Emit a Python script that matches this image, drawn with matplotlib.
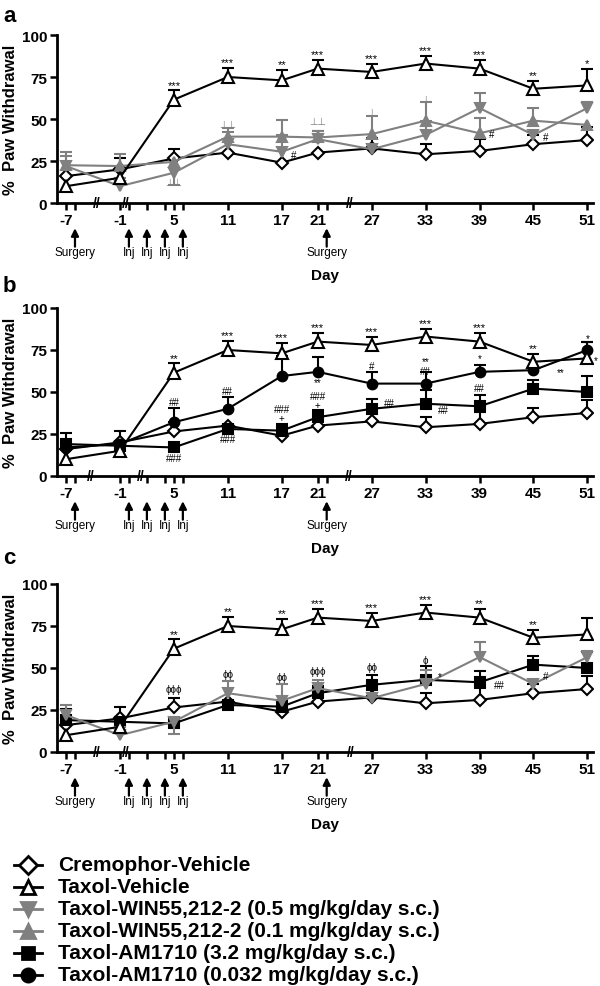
import matplotlib
matplotlib.use('Agg')
import matplotlib.pyplot as plt
from matplotlib.lines import Line2D
import numpy as np

plt.rcParams['font.family'] = ['Liberation Sans', 'DejaVu Sans']

# ---- data (% paw withdrawal) ----
days = [-7, -1, 5, 11, 17, 21, 27, 33, 39, 45, 51]
day_labels = ['-7', '-1', '5', '11', '17', '21', '27', '33', '39', '45', '51']
minor_days = [-6, 0, 2, 4, 6, 22]
surgery_days = [-6, 22]
inj_days = [0, 2, 4, 6]

cremo = [16, 20, 26.5, 30, 24, 30, 32.5, 29, 31, 35, 37.5]
cremo_up = [0, 7, 5.5, 0, 0, 0, 6, 6, 7, 5.5, 8]

taxol = [10, 15, 61.5, 75, 73, 80, 78, 83, 80, 68, 70]
taxol_up = [0, 0, 5.5, 5.5, 6, 5, 5, 4.5, 5, 4.5, 10]

win05 = [22, 10, 18, 35, 30.5, 38, 32, 40.5, 56.5, 40.5, 56.5]
win05_up = [6, 5, 0, 7, 10, 5, 0, 8.5, 9, 0, 3.5]
win05_dn = [0, 0, 7, 0, 0, 0, 0, 0, 0, 0, 0]

win01 = [22.5, 22, 24.5, 39.5, 39.5, 39, 41, 49, 41.5, 49, 46.5]
win01_up = [8, 7, 0, 5, 10, 4, 11, 11, 9, 7.5, 0]

am32 = [19, 18, 17, 28, 27, 35, 40, 43, 41.5, 52, 50]
am32_up = [6.5, 0, 0, 0, 4, 4, 6, 8, 6.5, 5, 9.5]

am0032 = [17, 19, 32, 40, 59.5, 62, 55, 55, 62, 63, 75]
am0032_up = [0, 0, 8.5, 7, 12, 9, 7, 7, 4, 0, 5]

# significance marks above the Taxol-Vehicle error bars
stars_a = ['', '', '***', '***', '**', '***', '***', '***', '***', '**', '*']
stars_b = ['', '', '**', '***', '***', '***', '***', '***', '***', '**', '']
stars_c = ['', '', '**', '**', '**', '***', '***', '***', '**', '**', '']

GREY = '#808080'
zeros = [0] * len(days)

series = {
    'cremo': dict(label='Cremophor-Vehicle', y=cremo, up=cremo_up, dn=zeros,
                  marker='D', ms=6.5, color='black', mfc='white'),
    'taxol': dict(label='Taxol-Vehicle', y=taxol, up=taxol_up, dn=zeros,
                  marker='^', ms=8, color='black', mfc='white'),
    'win05': dict(label='Taxol-WIN55,212-2 (0.5 mg/kg/day s.c.)', y=win05, up=win05_up,
                  dn=win05_dn, marker='v', ms=7.5, color=GREY, mfc=GREY),
    'win01': dict(label='Taxol-WIN55,212-2 (0.1 mg/kg/day s.c.)', y=win01, up=win01_up,
                  dn=zeros, marker='^', ms=7.5, color=GREY, mfc=GREY),
    'am32': dict(label='Taxol-AM1710 (3.2 mg/kg/day s.c.)', y=am32, up=am32_up, dn=zeros,
                 marker='s', ms=6.5, color='black', mfc='black'),
    'am0032': dict(label='Taxol-AM1710 (0.032 mg/kg/day s.c.)', y=am0032, up=am0032_up,
                   dn=zeros, marker='o', ms=7, color='black', mfc='black'),
}

# extra marks: (day, y centre, text, colour)
notes_a = [(11, 47, '⊥⊥', GREY), (21, 49, '⊥⊥', GREY), (27, 54, '⊥', GREY),
           (33, 62, '⊥', GREY), (5, 12.5, '⊥⊥', GREY),
           (18.3, 28.5, '#', 'black'), (40.3, 41, '#', 'black'), (46.3, 39, '#', 'black')]
notes_b = [(5, 44, '##', 'black'), (5, 10.5, '###', 'black'),
           (11, 50.5, '##', 'black'), (11, 22, '###', 'black'),
           (17, 40, '###', 'black'), (17, 34.5, '+', 'black'),
           (21, 47.5, '###', 'black'), (21, 42, '+', 'black'), (21, 56, '**', 'black'),
           (27, 65.5, '#', 'black'), (29, 43.5, '##', 'black'),
           (33, 68.5, '**', 'black'), (33, 62.5, '##', 'black'), (35, 39.5, '##', 'black'),
           (39, 70, '*', 'black'), (39, 52.5, '##', 'black'),
           (48, 62, '**', 'black'), (51, 82, '*', 'black'), (51.9, 69, '*', 'black')]
notes_c = [(5, 37.5, 'ϕϕϕ', 'black'), (11, 46.5, 'ϕϕ', 'black'), (17, 44.5, 'ϕϕ', 'black'),
           (21, 48, 'ϕϕϕ', 'black'), (27, 50.5, 'ϕϕ', 'black'), (33, 55, 'ϕ', 'black'),
           (34.6, 45, '*', 'black'), (41.2, 40, '##', 'black'), (46.3, 45, '#', 'black')]

breaks_a = [-3.6, -0.3, 24.6]
breaks_b = [-4.3, 1.3, 24.5]
breaks_c = [-3.6, -0.4, 24.7]


def plot_series(ax, s, z):
    x = np.array(days, float)
    y = np.array(s['y'], float)
    up = np.array(s['up'], float)
    dn = np.array(s['dn'], float)
    m = up > 0
    if m.any():
        _, caps, _ = ax.errorbar(x[m], y[m], yerr=[np.zeros(m.sum()), up[m]], fmt='none',
                                 ecolor=s['color'], elinewidth=1.5, capsize=4.5,
                                 capthick=1.5, zorder=z)
        caps[0].set_visible(False)
    m = dn > 0
    if m.any():
        _, caps, _ = ax.errorbar(x[m], y[m], yerr=[dn[m], np.zeros(m.sum())], fmt='none',
                                 ecolor=s['color'], elinewidth=1.5, capsize=4.5,
                                 capthick=1.5, zorder=z)
        caps[1].set_visible(False)
    ax.plot(x, y, color=s['color'], lw=1.5, marker=s['marker'], ms=s['ms'],
            mfc=s['mfc'], mec=s['color'], mew=1.5, zorder=z + 0.5)


def setup_panel(ax, keys, stars, notes, breaks):
    for i, k in enumerate(keys):
        plot_series(ax, series[k], 3 + i)

    t = series['taxol']
    for d, v, e, st in zip(days, t['y'], t['up'], stars):
        if st:
            ax.text(d, v + e + 0.5, st, ha='center', va='bottom', fontsize=8, zorder=10)
    for d, v, txt, col in notes:
        ax.text(d, v, txt, ha='center', va='center', fontsize=7, color=col,
                zorder=10, clip_on=False)

    ax.set_xlim(-8, 51.6)
    ax.set_ylim(0, 100)
    ax.set_yticks([0, 25, 50, 75, 100])
    ax.set_xticks(days)
    ax.set_xticklabels(day_labels)
    ax.set_xticks(minor_days, minor=True)
    for sp in ['top', 'right']:
        ax.spines[sp].set_visible(False)
    for sp in ['left', 'bottom']:
        ax.spines[sp].set_linewidth(2)
    ax.tick_params(which='both', direction='out', length=5, width=1.8, labelsize=11, pad=2)
    for lbl in ax.get_xticklabels() + ax.get_yticklabels():
        lbl.set_fontweight('bold')

    ax.set_ylabel('%  Paw Withdrawal', fontsize=12, fontweight='bold')
    ax.yaxis.set_label_coords(-0.072, 0.5)

    tr = ax.get_xaxis_transform()
    for b in breaks:
        ax.text(b, 0, '//', transform=tr, ha='center', va='center', fontsize=10,
                fontweight='bold', clip_on=False, zorder=12)

    arrow_style = dict(arrowstyle='-|>', color='black', lw=1.6, mutation_scale=11,
                       shrinkA=0, shrinkB=0)
    for d in surgery_days:
        ax.annotate('', xy=(d, -0.15), xytext=(d, -0.26), xycoords=tr, textcoords=tr,
                    arrowprops=arrow_style)
        ax.text(d, -0.29, 'Surgery', transform=tr, ha='center', va='center', fontsize=8.5)
    for d in inj_days:
        ax.annotate('', xy=(d, -0.15), xytext=(d, -0.26), xycoords=tr, textcoords=tr,
                    arrowprops=arrow_style)
        ax.text(d, -0.29, 'Inj', transform=tr, ha='center', va='center', fontsize=8.5)

    ax.text(20.2, -0.43, 'Day', transform=tr, ha='left', va='center', fontsize=11,
            fontweight='bold')


fig = plt.figure(figsize=(6, 9.87), dpi=100)
H = 987.0

ax_a = fig.add_axes([0.095, 1 - 204 / H, 0.893, 168 / H])
ax_b = fig.add_axes([0.095, 1 - 477 / H, 0.893, 168 / H])
ax_c = fig.add_axes([0.095, 1 - 753 / H, 0.893, 168 / H])

setup_panel(ax_a, ['cremo', 'win05', 'win01', 'taxol'], stars_a, notes_a, breaks_a)
setup_panel(ax_b, ['cremo', 'am32', 'am0032', 'taxol'], stars_b, notes_b, breaks_b)
setup_panel(ax_c, ['cremo', 'am32', 'win05', 'taxol'], stars_c, notes_c, breaks_c)

for letter, ypix in [('a', 16), ('b', 287), ('c', 559)]:
    fig.text(0.005, 1 - ypix / H, letter, fontsize=16, fontweight='bold', va='center')

# legend drawn by hand so the rows sit where they do in the original
legend_keys = ['cremo', 'taxol', 'win05', 'win01', 'am32', 'am0032']
for i, k in enumerate(legend_keys):
    s = series[k]
    yf = 1 - (866 + 22 * i) / H
    fig.add_artist(Line2D([14 / 600, 42 / 600], [yf, yf], transform=fig.transFigure,
                          color=s['color'], lw=2))
    fig.add_artist(Line2D([28 / 600], [yf], transform=fig.transFigure, marker=s['marker'],
                          ms=s['ms'] + 2.5, mfc=s['mfc'], mec=s['color'], mew=2,
                          color=s['color'], lw=0))
    fig.text(58 / 600, yf, s['label'], fontsize=15, fontweight='bold', va='center')

fig.savefig('out.png', dpi=100)
